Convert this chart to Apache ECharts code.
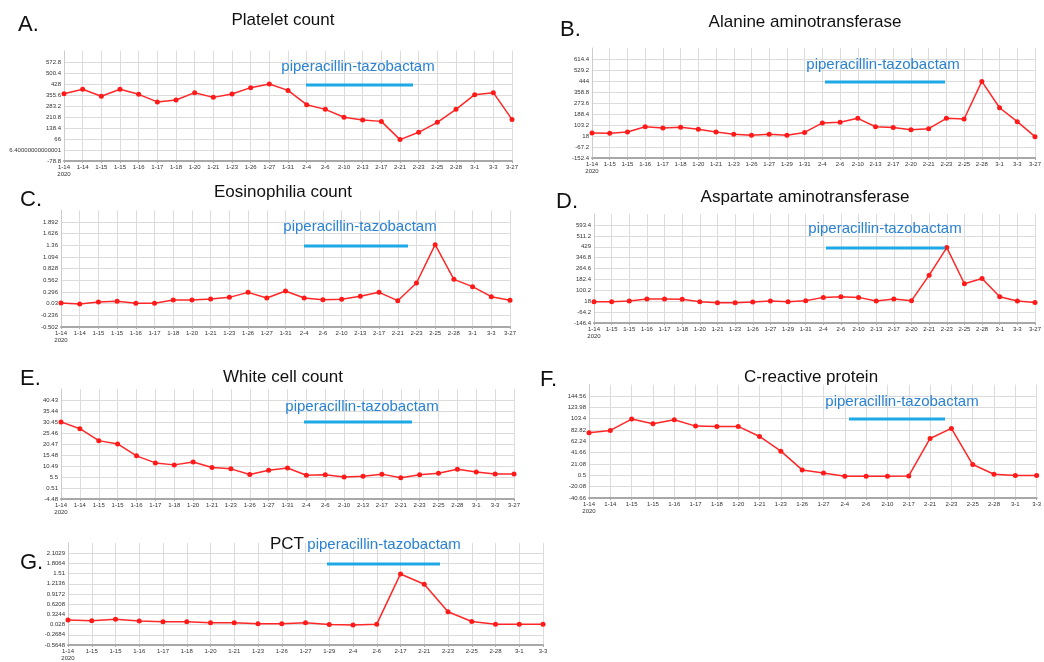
<!DOCTYPE html>
<html><head><meta charset="utf-8">
<script src="https://cdn.jsdelivr.net/npm/echarts@6/dist/echarts.min.js"></script>
<style>html,body{margin:0;padding:0;background:#fff}#c{width:1044px;height:662px}</style>
</head><body><div id="c"></div><script>
// ---------- data ----------
const catsA = ['1-14','1-14','1-15','1-15','1-16','1-17','1-18','1-20','1-21','1-23','1-26','1-27','1-31','2-4','2-6','2-10','2-13','2-17','2-21','2-23','2-25','2-28','3-1','3-3','3-27'];
const valsA = [364,393,347,393,360,310,323,371,340,362,404,428,386,292,261,209,191,182,62,110,176,261,358,371,195];
const yLabelsA = ['-78.8','6.40000000000001','66','138.4','210.8','283.2','355.6','428','500.4','572.8'];

const catsB = ['1-14','1-15','1-15','1-16','1-17','1-18','1-20','1-21','1-23','1-26','1-27','1-29','1-31','2-4','2-6','2-10','2-13','2-17','2-20','2-21','2-23','2-25','2-28','3-1','3-3','3-27'];
const valsB = [41,39,49,90,80,85,70,49,31,23,31,24,46,119,124,155,90,83,67,75,155,150,441,237,129,13];
const yLabelsB = ['-152.4','-67.2','18','103.2','188.4','273.6','358.8','444','529.2','614.4'];

const catsC = ['1-14','1-14','1-15','1-15','1-16','1-17','1-18','1-20','1-21','1-23','1-26','1-27','1-31','2-4','2-6','2-10','2-13','2-17','2-21','2-23','2-25','2-28','3-1','3-3','3-27'];
const valsC = [0.045,0.022,0.068,0.083,0.038,0.038,0.114,0.114,0.136,0.174,0.288,0.159,0.319,0.159,0.121,0.129,0.197,0.288,0.098,0.501,1.375,0.585,0.418,0.19,0.106];
const yLabelsC = ['-0.502','-0.236','0.03','0.296','0.562','0.828','1.094','1.36','1.626','1.892'];

const catsD = ['1-14','1-15','1-15','1-16','1-17','1-18','1-20','1-21','1-23','1-26','1-27','1-29','1-31','2-4','2-6','2-10','2-13','2-17','2-20','2-21','2-23','2-25','2-28','3-1','3-3','3-27'];
const valsD = [14,14,19,34,34,32,14,7,7,12,19,14,22,47,52,47,19,34,22,215,423,150,190,52,19,9];
const yLabelsD = ['-146.4','-64.2','18','100.2','182.4','264.6','346.8','429','511.2','593.4'];

const catsE = ['1-14','1-14','1-15','1-15','1-16','1-17','1-18','1-20','1-21','1-23','1-26','1-27','1-31','2-4','2-6','2-10','2-13','2-17','2-21','2-23','2-25','2-28','3-1','3-3','3-27'];
const valsE = [30.5,27.4,22.0,20.5,15.1,11.9,11.0,12.3,9.8,9.2,6.6,8.6,9.6,6.3,6.5,5.5,5.8,6.8,5.2,6.5,7.2,9.0,7.8,6.9,6.9];
const yLabelsE = ['-4.48','0.51','5.5','10.49','15.48','20.47','25.46','30.45','35.44','40.43'];

const catsF = ['1-14','1-14','1-15','1-15','1-16','1-17','1-18','1-20','1-21','1-23','1-26','1-27','2-4','2-6','2-10','2-17','2-21','2-23','2-25','2-28','3-1','3-3'];
const valsF = [77.8,82.0,102.7,94.2,101.4,89.9,89.3,89.3,71.1,44.4,10.3,4.9,-1.2,-1.2,-1.2,-0.6,67.4,85.7,20.1,2.5,0.1,0.1];
const yLabelsF = ['-40.66','-20.08','0.5','21.08','41.66','62.24','82.82','103.4','123.98','144.56'];

const catsG = ['1-14','1-15','1-15','1-16','1-17','1-18','1-20','1-21','1-23','1-26','1-27','1-29','2-4','2-6','2-17','2-21','2-23','2-25','2-28','3-1','3-3'];
const valsG = [0.16,0.14,0.18,0.13,0.11,0.11,0.08,0.08,0.05,0.05,0.08,0.03,0.02,0.04,1.5,1.2,0.4,0.12,0.04,0.04,0.04];
const yLabelsG = ['-0.5648','-0.2684','0.028','0.3244','0.6208','0.9172','1.2136','1.51','1.8064','2.1029'];

const drugLabel = 'piperacillin-tazobactam';

// ---------- layout ----------
const panels = [
  {letter:'A.', title:'Platelet count', cats:catsA, vals:valsA, yLabels:yLabelsA, yMin:-78.8, yStep:72.4,
   grid:{left:64, top:62, width:448, height:99}, tX:283, tY:20, lX:18, lY:25, aX:358, aY:67, l1:306, l2:413, lY2:85},
  {letter:'B.', title:'Alanine aminotransferase', cats:catsB, vals:valsB, yLabels:yLabelsB, yMin:-152.4, yStep:85.2,
   grid:{left:592, top:59, width:446, height:99}, tX:805, tY:22, lX:560, lY:30, aX:883, aY:65, l1:825, l2:945, lY2:82},
  {letter:'C.', title:'Eosinophilia count', cats:catsC, vals:valsC, yLabels:yLabelsC, yMin:-0.502, yStep:0.266,
   grid:{left:61, top:222, width:449, height:105}, tX:283, tY:192, lX:20, lY:200, aX:360, aY:227, l1:304, l2:408, lY2:246},
  {letter:'D.', title:'Aspartate aminotransferase', cats:catsD, vals:valsD, yLabels:yLabelsD, yMin:-146.4, yStep:82.2,
   grid:{left:594, top:225, width:447, height:98}, tX:805, tY:197, lX:556, lY:202, aX:885, aY:229, l1:826, l2:945, lY2:248},
  {letter:'E.', title:'White cell count', cats:catsE, vals:valsE, yLabels:yLabelsE, yMin:-4.48, yStep:4.99,
   grid:{left:61, top:400, width:453, height:99}, tX:283, tY:377, lX:20, lY:379, aX:362, aY:407, l1:304, l2:412, lY2:422},
  {letter:'F.', title:'C-reactive protein', cats:catsF, vals:valsF, yLabels:yLabelsF, yMin:-40.66, yStep:20.58,
   grid:{left:589, top:396, width:455, height:102}, tX:811, tY:377, lX:540, lY:380, aX:902, aY:402, l1:849, l2:945, lY2:419},
  {letter:'G.', title:'PCT', cats:catsG, vals:valsG, yLabels:yLabelsG, yMin:-0.5648, yStep:0.2964,
   grid:{left:68, top:554, width:475, height:99}, tX:287, tY:544, lX:20, lY:563, aX:384, aY:545, l1:327, l2:440, lY2:564}
];

const grids = [], xAxes = [], yAxes = [], series = [], graphics = [];
panels.forEach((p, i) => {
  const ticks = p.yLabels.map((_, k) => Number((p.yMin + k * p.yStep).toFixed(6)));
  // plot area continues one step above the last labelled tick (no gridline there)
  const yMax = Number((ticks[ticks.length - 1] + p.yStep).toFixed(6));
  const stepPx = p.grid.height / (ticks.length - 1);
  grids.push({containLabel:false, left:p.grid.left, width:p.grid.width,
              top:p.grid.top - stepPx, height:p.grid.height + stepPx});
  xAxes.push({
    type:'category', gridIndex:i, data:p.cats, boundaryGap:false,
    axisLine:{show:true, onZero:false, lineStyle:{color:'#a8a8a8', width:2}},
    axisTick:{show:true, length:2, lineStyle:{color:'#aaa'}},
    axisLabel:{interval:0, hideOverlap:false, fontSize:6, color:'#333', margin:3, lineHeight:7,
      fontFamily:'Liberation Sans',
      formatter:(v, idx) => idx === 0 ? v + '\n2020' : v},
    splitLine:{show:true, lineStyle:{color:'#dcdcdc', width:1}}
  });
  yAxes.push({
    type:'value', gridIndex:i, min:ticks[0], max:yMax,
    axisLine:{show:true, onZero:false, lineStyle:{color:'#ccc'}},
    axisTick:{show:false, customValues:ticks},
    axisLabel:{customValues:ticks, fontSize:6, color:'#333', margin:3, fontFamily:'Liberation Sans',
      formatter:(v) => p.yLabels[Math.round((v - p.yMin) / p.yStep)]},
    splitLine:{show:true, lineStyle:{color:'#dcdcdc', width:1}}
  });
  series.push({
    type:'line', xAxisIndex:i, yAxisIndex:i, data:p.vals,
    symbol:'circle', symbolSize:5, showSymbol:true,
    lineStyle:{color:'#ff2727', width:1.5}, itemStyle:{color:'#ff1a1a'},
    animation:false, silent:true
  });
  graphics.push(
    {type:'text', z:100, x:p.tX, y:p.tY, style:{text:p.title, font:'17px "Liberation Sans"', fill:'#111', align:'center', verticalAlign:'middle'}},
    {type:'text', z:100, x:p.lX, y:p.lY, style:{text:p.letter, font:'22px "Liberation Sans"', fill:'#111', align:'left', verticalAlign:'middle'}},
    {type:'text', z:100, x:p.aX, y:p.aY, style:{text:drugLabel, font:'15px "Liberation Sans"', fill:'#2a82d2', align:'center', verticalAlign:'middle'}},
    {type:'line', z:100, shape:{x1:p.l1, y1:p.lY2, x2:p.l2, y2:p.lY2}, style:{stroke:'#1ea8e6', lineWidth:3}}
  );
});

const chart = echarts.init(document.getElementById('c'), null, {renderer:'canvas'});
chart.setOption({
  backgroundColor:'#fff', animation:false,
  grid:grids, xAxis:xAxes, yAxis:yAxes, series:series, graphic:graphics
});
</script></body></html>
